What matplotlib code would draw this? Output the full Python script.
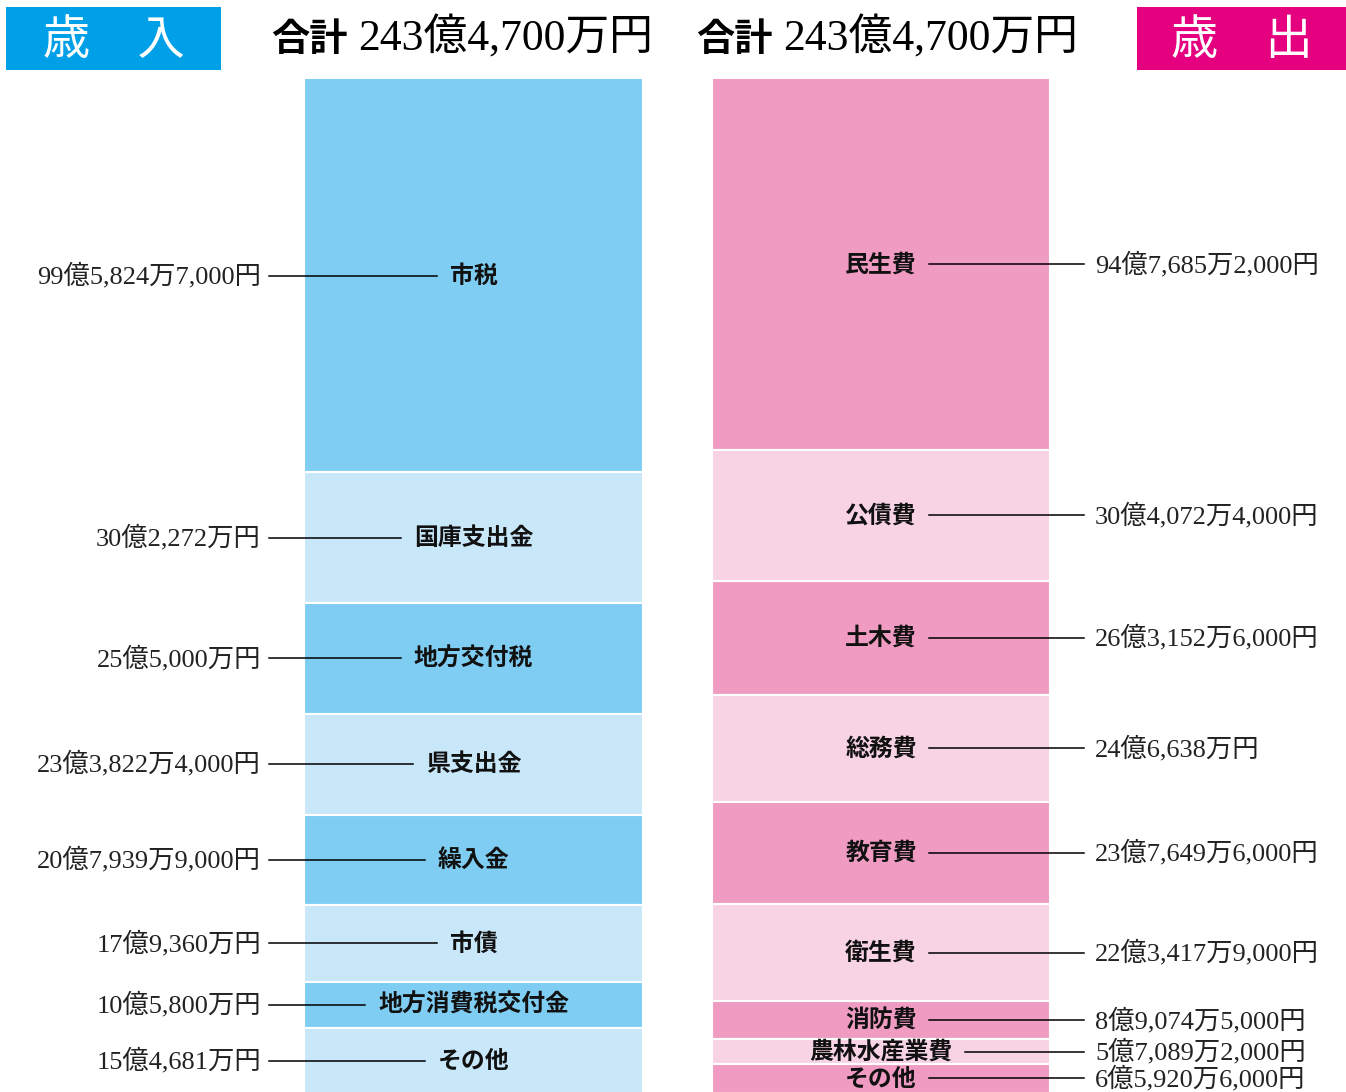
import matplotlib
matplotlib.use("Agg")
import matplotlib.pyplot as plt
from matplotlib.patches import Rectangle

# 歳入 (unit: 億円)
rev_names = ["市税", "国庫支出金", "地方交付税", "県支出金", "繰入金", "市債", "地方消費税交付金", "その他"]
rev_values = [99.58247, 30.2272, 25.5, 23.38224, 20.79399, 17.936, 10.58, 15.4681]
rev_labels = ["99億5,824万7,000円", "30億2,272万円", "25億5,000万円", "23億3,822万4,000円",
              "20億7,939万9,000円", "17億9,360万円", "10億5,800万円", "15億4,681万円"]

# 歳出 (unit: 億円)
exp_names = ["民生費", "公債費", "土木費", "総務費", "教育費", "衛生費", "消防費", "農林水産業費", "その他"]
exp_values = [94.76852, 30.40724, 26.31526, 24.6638, 23.76496, 22.34179, 8.90745, 5.70892, 6.59206]
exp_labels = ["94億7,685万2,000円", "30億4,072万4,000円", "26億3,152万6,000円", "24億6,638万円",
              "23億7,649万6,000円", "22億3,417万9,000円", "8億9,074万5,000円", "5億7,089万2,000円",
              "6億5,920万6,000円"]

total_text = "243億4,700万円"

W, H = 1346, 1092
SANS = ["Noto Sans CJK JP", "DejaVu Sans"]
SERIF = ["Liberation Serif", "Noto Sans CJK JP"]

blue_dark, blue_light = "#7fcdf2", "#c8e7f9"
pink_dark, pink_light = "#f09cc2", "#f8d3e4"

fig = plt.figure(figsize=(W / 100, H / 100), dpi=100)
top_px = 79
px_per_oku = 4.325


def make_axes(y_top):
    # the big top blocks are cut off above the plot
    a = fig.add_axes([0, 0, 1, (H - top_px) / H])
    a.set_xlim(0, W)
    a.set_ylim(y_top + (H - top_px) / px_per_oku, y_top)
    a.axis("off")
    return a


def draw_column(ax, names, values, labels, x0, x1, colors, side):
    y_top = ax.get_ylim()[1]
    y_bot = ax.get_ylim()[0]
    texts = []
    start = 0
    for i, (n, v, lab) in enumerate(zip(names, values, labels)):
        ax.bar((x0 + x1) / 2, v, bottom=start, width=x1 - x0,
               color=colors[i % 2], edgecolor="white", linewidth=1.5)
        mid = (max(start, y_top) + min(start + v, y_bot + 0.5)) / 2
        t = ax.text((x0 + x1) / 2, mid, n, ha="center", va="center",
                    fontsize=17.2, fontweight="bold", family=SANS, color="#111111")
        if side == "left":
            ax.text(261, mid, lab, ha="right", va="center", fontsize=19, family=SERIF, color="#222222")
        else:
            ax.text(1095, mid, lab, ha="left", va="center", fontsize=19, family=SERIF, color="#222222")
        texts.append((t, mid))
        start += v
    return texts


ax_l = make_axes(8.6)
ax_r = make_axes(9.1)
left_texts = draw_column(ax_l, rev_names, rev_values, rev_labels, 304, 643, [blue_dark, blue_light], "left")
right_texts = draw_column(ax_r, exp_names, exp_values, exp_labels, 712, 1050, [pink_dark, pink_light], "right")

# leader lines, measured against the drawn label text
fig.canvas.draw()
renderer = fig.canvas.get_renderer()
for t, mid in left_texts:
    bb = t.get_window_extent(renderer)
    xl = ax_l.transData.inverted().transform((bb.x0, bb.y0))[0]
    ax_l.plot([269, xl - 13], [mid, mid], color="black", linewidth=1.1)
for t, mid in right_texts:
    bb = t.get_window_extent(renderer)
    xr = ax_r.transData.inverted().transform((bb.x1, bb.y0))[0]
    ax_r.plot([xr + 12, 1084], [mid, mid], color="black", linewidth=1.1)

# header boxes
fig.patches.append(Rectangle((6 / W, 1 - 70 / H), 215 / W, 63 / H, transform=fig.transFigure,
                             facecolor="#00a0e9", edgecolor="none"))
fig.patches.append(Rectangle((1137 / W, 1 - 70 / H), 209 / W, 63 / H, transform=fig.transFigure,
                             facecolor="#e4007f", edgecolor="none"))
fig.text(113.5 / W, 1 - 41 / H, "歳　入", ha="center", va="center", fontsize=34,
         color="white", family=SANS)
fig.text(1241.5 / W, 1 - 41 / H, "歳　出", ha="center", va="center", fontsize=34,
         color="white", family=SANS)

# totals
for x_goukei, x_num in [(271, 358), (696, 783)]:
    fig.text(x_goukei / W, 1 - 39 / H, "合計", ha="left", va="center", fontsize=27.5,
             fontweight="bold", family=SANS, color="black")
    fig.text(x_num / W, 1 - 38 / H, total_text, ha="left", va="center", fontsize=31.5,
             family=SERIF, color="black")

fig.savefig("out.png", dpi=100)
